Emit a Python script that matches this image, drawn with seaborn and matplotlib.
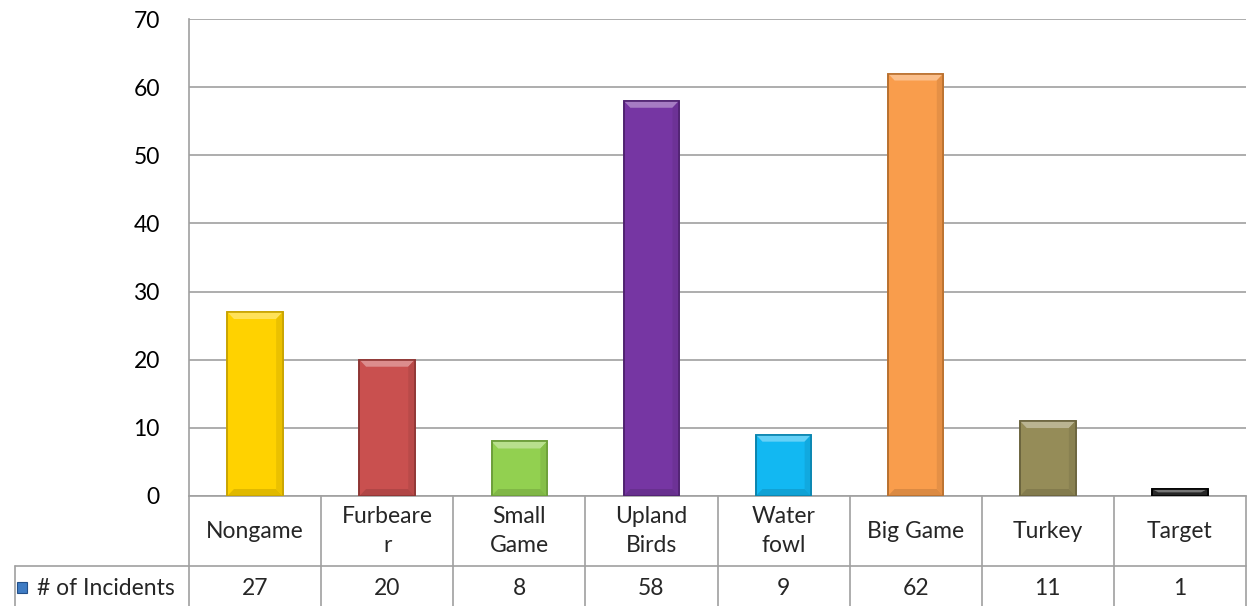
import matplotlib
matplotlib.use('Agg')
import matplotlib.pyplot as plt
import matplotlib.colors as mcolors
import seaborn as sns
import pandas as pd
from matplotlib.patches import Rectangle, Polygon

categories = ['Nongame', 'Furbearer', 'Small Game', 'Upland Birds', 'Water fowl', 'Big Game', 'Turkey', 'Target']
header_labels = ['Nongame', 'Furbeare\nr', 'Small\nGame', 'Upland\nBirds', 'Water\nfowl', 'Big Game', 'Turkey', 'Target']
incidents = [27, 20, 8, 58, 9, 62, 11, 1]
bar_colors = ['#FFD200', '#C9504F', '#92D050', '#7636A3', '#12B8F2', '#F99D4C', '#958C58', '#2A2A2A']
edge_colors = ['#C9A400', '#8E3634', '#6C9E3A', '#4F2270', '#0A84AE', '#B8702F', '#6B643E', '#000000']
series_name = '# of Incidents'

sns.set_style('white')
plt.rcParams['font.family'] = ['Lato', 'DejaVu Sans']
FS = 16.5

df = pd.DataFrame({'category': categories, 'value': incidents})

fig = plt.figure(figsize=(12.48, 6.06), dpi=100)
ax = fig.add_axes([189 / 1248, 1 - 496 / 606, 1057 / 1248, 477 / 606])

sns.barplot(data=df, x='category', y='value', hue='category', palette=bar_colors,
            legend=False, width=0.42, ax=ax, saturation=1)


def shade(c, f):
    r, g, b = mcolors.to_rgb(c)
    if f > 0:
        return (r + (1 - r) * f, g + (1 - g) * f, b + (1 - b) * f)
    return (r * (1 + f), g * (1 + f), b * (1 + f))


# small bevel: lighter top edge, darker bottom/right edges
px_per_unit = 477 / 70
for patch, fc, ec in zip(ax.patches, bar_colors, edge_colors):
    patch.set_edgecolor(ec)
    patch.set_linewidth(1.2)
    patch.set_zorder(3)
    x0 = patch.get_x()
    w = patch.get_width()
    h = patch.get_height()
    bev = min(7 / px_per_unit, h / 2)
    dx = min(w * 0.12, w / 2)
    top = Polygon([(x0, h), (x0 + w, h), (x0 + w - dx, h - bev), (x0 + dx, h - bev)],
                  closed=True, facecolor=shade(fc, 0.35), edgecolor='none', zorder=4)
    bot = Polygon([(x0, 0), (x0 + w, 0), (x0 + w - dx, bev), (x0 + dx, bev)],
                  closed=True, facecolor=shade(fc, -0.12), edgecolor='none', zorder=4)
    right = Polygon([(x0 + w, 0), (x0 + w, h), (x0 + w - dx, h - bev), (x0 + w - dx, bev)],
                    closed=True, facecolor=shade(fc, -0.08), edgecolor='none', zorder=4)
    ax.add_patch(top)
    ax.add_patch(bot)
    ax.add_patch(right)
    ax.add_patch(Rectangle((x0, 0), w, h, facecolor='none', edgecolor=ec, linewidth=1.2, zorder=5))

ax.set_ylim(0, 70)
ax.set_xlim(-0.5, 7.5)
ax.set_yticks(range(0, 71, 10))
ax.yaxis.grid(True, color='#A0A0A0', linewidth=1.2, zorder=0)
ax.set_axisbelow(True)
ax.set_xticks([])
ax.set_xlabel('')
ax.set_ylabel('')
ax.tick_params(axis='y', length=0, labelsize=FS, pad=21, colors='#000000')
for side in ['top', 'right']:
    ax.spines[side].set_visible(False)
ax.spines['left'].set_color('#A0A0A0')
ax.spines['left'].set_linewidth(1.2)
ax.spines['bottom'].set_color('#A0A0A0')
ax.spines['bottom'].set_linewidth(1.2)

# data table below the plot area (axes coordinates in y, data in x)
row1 = -70 / 477
row2 = -112 / 477
col_w = 1057 / 8
x_left_cell = -0.5 - (189 - 15) / col_w
line_kw = dict(color='#A0A0A0', linewidth=1.2, clip_on=False, transform=ax.get_xaxis_transform())
for i in range(9):
    ax.plot([i - 0.5, i - 0.5], [0, row2], **line_kw)
ax.plot([x_left_cell, 7.5], [row1, row1], **line_kw)
ax.plot([x_left_cell, x_left_cell], [row1, row2], **line_kw)

trans = ax.get_xaxis_transform()
for i, (lab, val) in enumerate(zip(header_labels, incidents)):
    ax.text(i, row1 / 2, lab, ha='center', va='center', fontsize=FS,
            transform=trans, clip_on=False, linespacing=1.45)
    ax.text(i, (row1 + row2) / 2 - 0.004, str(val), ha='center', va='center', fontsize=FS,
            transform=trans, clip_on=False)

# legend key + series name
key_x = x_left_cell + 2 / col_w
key_h = 11 / 477
ax.add_patch(Rectangle((key_x, (row1 + row2) / 2 - key_h / 2 - 0.002), 10 / col_w, key_h,
                       facecolor='#3F7CC4', edgecolor='#23508A', linewidth=0.8,
                       transform=trans, clip_on=False))
ax.text(key_x + 20 / col_w, (row1 + row2) / 2 - 0.004, series_name, ha='left', va='center', fontsize=FS,
        transform=trans, clip_on=False)

fig.savefig('out.png', dpi=100)
